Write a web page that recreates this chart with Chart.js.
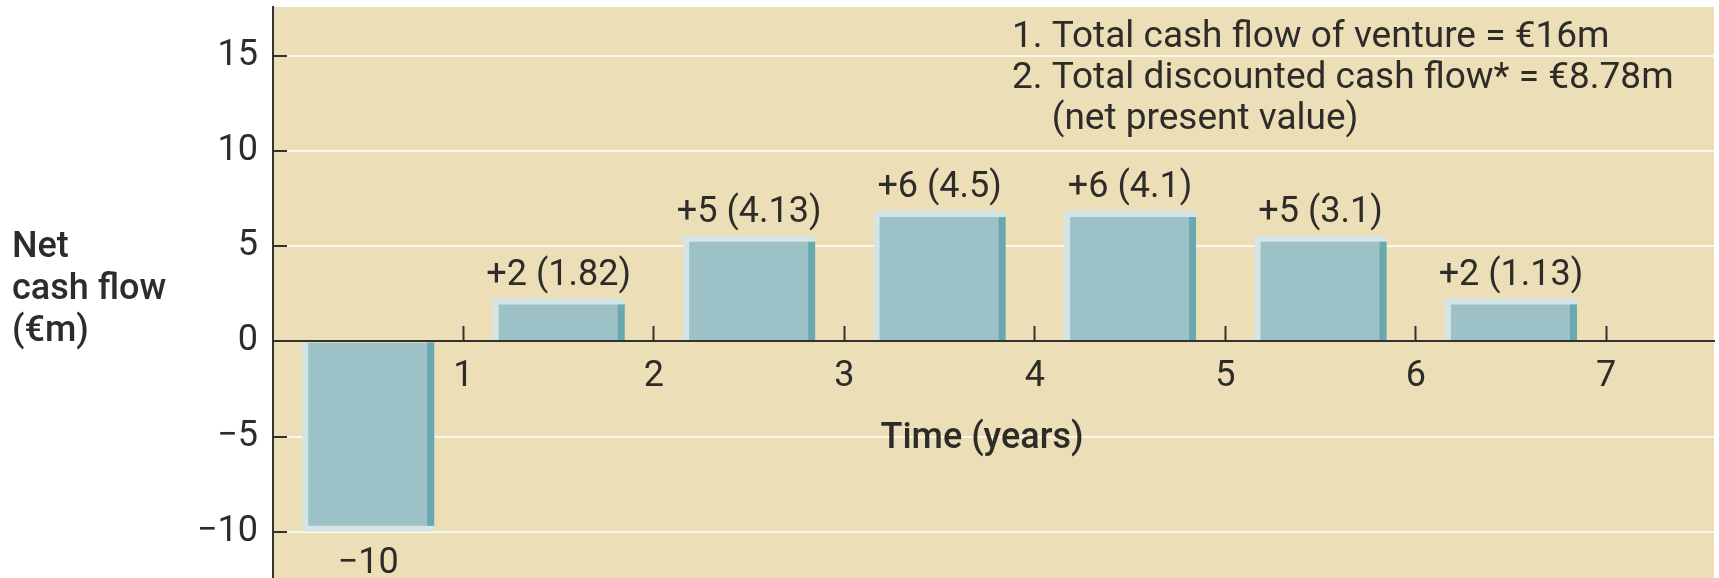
<!DOCTYPE html>
<html>
<head>
<meta charset="utf-8">
<script src="https://cdn.jsdelivr.net/npm/chart.js@4.4.1/dist/chart.umd.min.js"></script>
<style>
  html, body { margin: 0; padding: 0; background: #fff; }
  #wrap { width: 1719px; height: 578px; }
</style>
</head>
<body>
<div id="wrap"><canvas id="cashflow"></canvas></div>
<script>
// bars sit between the year ticks
const periods = [0.5, 1.5, 2.5, 3.5, 4.5, 5.5, 6.5];
// bar heights as drawn (€m)
const netFlow = [-10, 2.25, 5.55, 6.85, 6.85, 5.55, 2.25];
// cash flow (discounted value) printed by each bar
const barLabels = ['−10', '+2 (1.82)', '+5 (4.13)', '+6 (4.5)', '+6 (4.1)', '+5 (3.1)', '+2 (1.13)'];
const xTicks = [1, 2, 3, 4, 5, 6, 7];
const yTicks = [-10, -5, 0, 5, 10, 15];
const yTitle = ['Net', 'cash flow', '(€m)'];
const xTitle = 'Time (years)';
const notes = [
  '1. Total cash flow of venture = €16m',
  '2. Total discounted cash flow* = €8.78m',
  '(net present value)'
];

const FONT = 'Roboto, "Liberation Sans", sans-serif';
const INK = '#2e2c29';
const AXIS = '#333230';
const RIM = 6;

Chart.defaults.font.family = FONT;
Chart.defaults.color = INK;

// beige panel behind the plot
const backdrop = {
  id: 'backdrop',
  beforeDraw(chart) {
    const {ctx, chartArea: a} = chart;
    ctx.save();
    ctx.fillStyle = '#ecdfb8';
    ctx.fillRect(a.left, a.top, a.right - a.left, a.bottom - a.top);
    ctx.restore();
  }
};

// dark right edge on each bar + value labels
const barShade = {
  id: 'barShade',
  afterDatasetsDraw(chart) {
    const {ctx} = chart;
    const meta = chart.getDatasetMeta(0);
    ctx.save();
    meta.data.forEach((bar, i) => {
      const {x, y, base, width} = bar.getProps(['x', 'y', 'base', 'width'], true);
      const right = x + width / 2;
      const neg = netFlow[i] < 0;
      ctx.fillStyle = '#69a8ae';
      if (neg) ctx.fillRect(right - 7, base, 7, y - RIM - base);
      else ctx.fillRect(right - 7, y + RIM, 7, base - y - RIM);

      ctx.fillStyle = INK;
      ctx.font = '36px ' + FONT;
      ctx.textAlign = 'center';
      ctx.textBaseline = 'alphabetic';
      ctx.fillText(barLabels[i], x, neg ? y + 41 : y - 14);
    });
    ctx.restore();
  }
};

// axis titles and the notes in the corner
const captions = {
  id: 'captions',
  afterDraw(chart) {
    const {ctx} = chart;
    ctx.save();
    ctx.fillStyle = INK;
    ctx.textBaseline = 'alphabetic';
    ctx.font = '500 36px ' + FONT;
    ctx.textAlign = 'left';
    yTitle.forEach((t, i) => ctx.fillText(t, 12, 257 + i * 42));
    ctx.textAlign = 'center';
    ctx.fillText(xTitle, 982, 448);

    ctx.textAlign = 'left';
    ctx.font = '37px ' + FONT;
    const indent = ctx.measureText('2. ').width;
    notes.forEach((t, i) => ctx.fillText(t, 1012 + (i === 2 ? indent : 0), 47 + i * 41));
    ctx.restore();
  }
};

new Chart(document.getElementById('cashflow'), {
  type: 'bar',
  data: {
    datasets: [{
      data: periods.map((p, i) => ({x: p, y: netFlow[i]})),
      backgroundColor: '#9cc2c7',
      borderColor: '#d4e5e8',
      borderWidth: ctx => netFlow[ctx.dataIndex] < 0
        ? {left: RIM, bottom: RIM, top: 0, right: 0}
        : {left: RIM, top: RIM, bottom: 0, right: 0},
      borderSkipped: false,
      barThickness: 132,
      inflateAmount: 0
    }]
  },
  options: {
    responsive: true,
    maintainAspectRatio: false,
    animation: false,
    layout: {padding: {top: 7, right: 5, bottom: 0, left: 0}},
    plugins: {legend: {display: false}, tooltip: {enabled: false}},
    scales: {
      x: {
        type: 'linear',
        position: {y: 0},
        min: 0,
        max: 7.566,
        offset: false,
        afterBuildTicks: s => { s.ticks = xTicks.map(v => ({value: v})); },
        // axis sits on y = 0, so it should not eat space at the bottom
        afterFit: s => { s.height = 0; s.paddingLeft = 0; s.paddingRight = 0; },
        grid: {drawOnChartArea: false, offset: false, tickLength: -16, tickWidth: 2, tickColor: AXIS, z: 1},
        border: {color: AXIS, width: 2, z: 1},
        ticks: {font: {size: 36}, color: INK, padding: 30, maxRotation: 0, autoSkip: false}
      },
      y: {
        min: -12.43,
        max: 17.57,
        afterBuildTicks: s => { s.ticks = yTicks.map(v => ({value: v})); },
        afterFit: s => { s.width = 273; s.paddingTop = 0; s.paddingBottom = 0; },
        grid: {color: '#fbf7ec', lineWidth: 2, tickLength: -14, tickWidth: 2, tickColor: AXIS},
        border: {color: AXIS, width: 2},
        ticks: {
          font: {size: 36},
          color: INK,
          padding: 29,
          callback: v => v < 0 ? '−' + Math.abs(v) : String(v)
        }
      }
    }
  },
  plugins: [backdrop, barShade, captions]
});
</script>
</body>
</html>
